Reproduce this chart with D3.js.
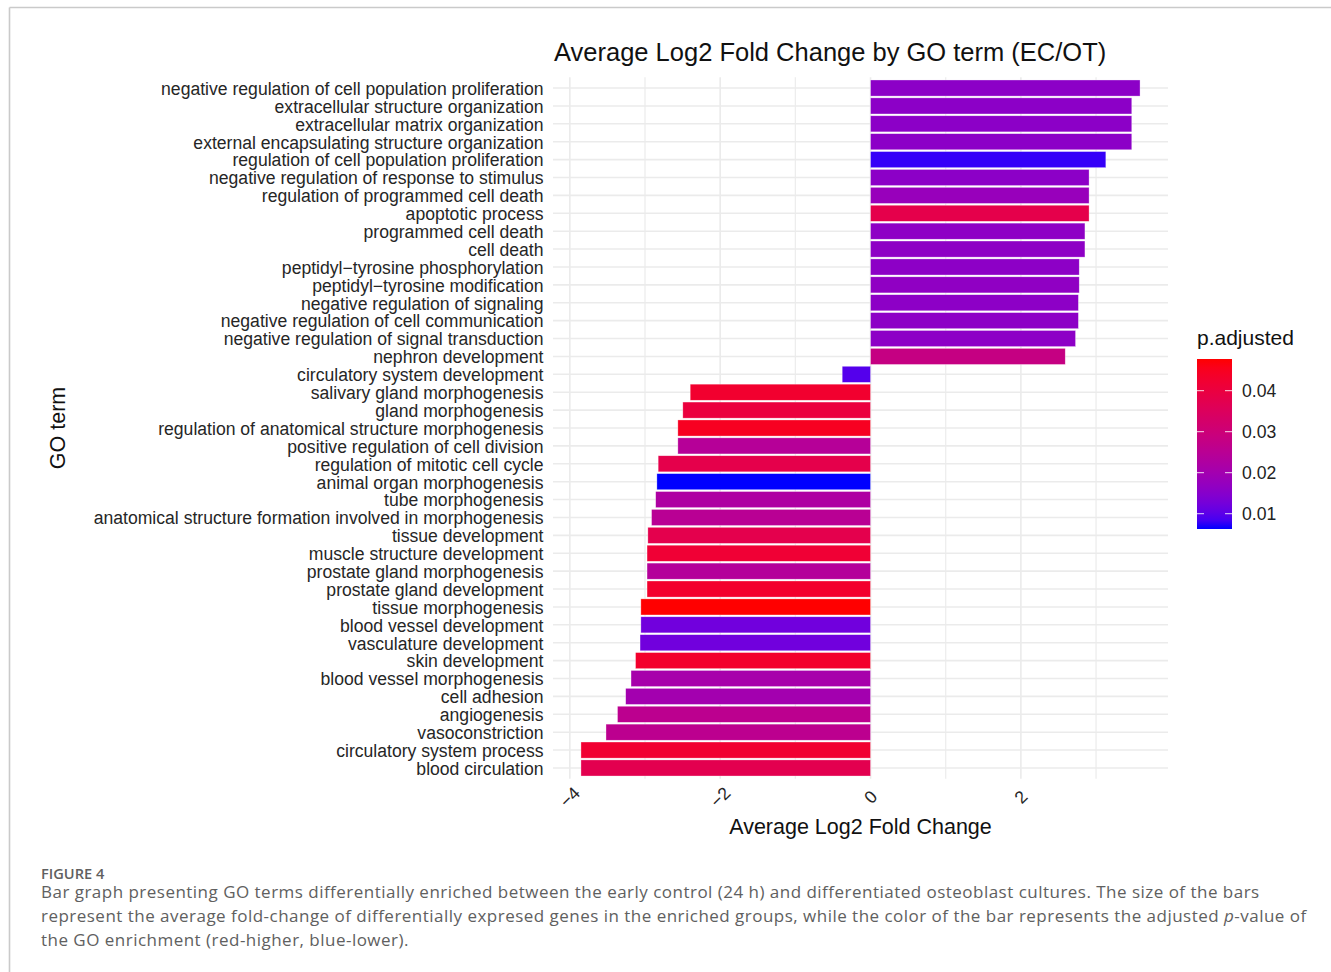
<!DOCTYPE html>
<html>
<head>
<meta charset="utf-8">
<script src="https://cdn.jsdelivr.net/npm/d3@7"></script>
<style>
  html, body { margin: 0; padding: 0; background: #ffffff; }
  svg { display: block; }
</style>
</head>
<body>
<div id="chart"></div>
<script>
// GO terms, listed top to bottom as drawn
const goTerms = [
  "negative regulation of cell population proliferation",
  "extracellular structure organization",
  "extracellular matrix organization",
  "external encapsulating structure organization",
  "regulation of cell population proliferation",
  "negative regulation of response to stimulus",
  "regulation of programmed cell death",
  "apoptotic process",
  "programmed cell death",
  "cell death",
  "peptidyl\u2212tyrosine phosphorylation",
  "peptidyl\u2212tyrosine modification",
  "negative regulation of signaling",
  "negative regulation of cell communication",
  "negative regulation of signal transduction",
  "nephron development",
  "circulatory system development",
  "salivary gland morphogenesis",
  "gland morphogenesis",
  "regulation of anatomical structure morphogenesis",
  "positive regulation of cell division",
  "regulation of mitotic cell cycle",
  "animal organ morphogenesis",
  "tube morphogenesis",
  "anatomical structure formation involved in morphogenesis",
  "tissue development",
  "muscle structure development",
  "prostate gland morphogenesis",
  "prostate gland development",
  "tissue morphogenesis",
  "blood vessel development",
  "vasculature development",
  "skin development",
  "blood vessel morphogenesis",
  "cell adhesion",
  "angiogenesis",
  "vasoconstriction",
  "circulatory system process",
  "blood circulation"
];

// Average log2 fold change per term
const avgLog2FC = [
  3.585, 3.475, 3.475, 3.475, 3.130, 2.907, 2.907, 2.907, 2.852, 2.852,
  2.776, 2.776, 2.765, 2.765, 2.727, 2.590, -0.377,
  -2.399, -2.497, -2.563, -2.563, -2.825, -2.842, -2.858, -2.913, -2.962,
  -2.973, -2.973, -2.973, -3.055, -3.055, -3.066, -3.126, -3.186, -3.257,
  -3.366, -3.519, -3.852, -3.852
];

// Adjusted p-value of the enrichment per term
const pAdjusted = [
  0.0158, 0.0158, 0.0158, 0.0158, 0.0075, 0.0158, 0.0179, 0.0382, 0.0162, 0.0162,
  0.0160, 0.0165, 0.0160, 0.0160, 0.0160, 0.0282, 0.0094,
  0.0428, 0.0403, 0.0448, 0.0241, 0.0382, 0.00627, 0.0224, 0.0249, 0.0378,
  0.0419, 0.0237, 0.0432, 0.04773, 0.0121, 0.0121, 0.0432, 0.0208, 0.0200,
  0.0258, 0.0258, 0.0423, 0.0374
];

const xTickValues = [-4, -2, 0, 2];
const legendTickValues = [0.01, 0.02, 0.03, 0.04];

const chartTitle = "Average Log2 Fold Change by GO term (EC/OT)";
const xTitle = "Average Log2 Fold Change";
const yTitle = "GO term";
const legendTitle = "p.adjusted";
const figureLabel = "FIGURE 4";
const captionLines = [
  "Bar graph presenting GO terms differentially enriched between the early control (24 h) and differentiated osteoblast cultures. The size of the bars",
  "represent the average fold-change of differentially expresed genes in the enriched groups, while the color of the bar represents the adjusted ",
  "the GO enrichment (red-higher, blue-lower)."
];

const W = 1331, H = 972;
const svg = d3.select("#chart").append("svg")
  .attr("width", W).attr("height", H)
  .style("font-family", "'Liberation Sans', Arial, sans-serif");

// card frame
svg.append("line").attr("x1", 9.5).attr("x2", W).attr("y1", 7.5).attr("y2", 7.5)
  .attr("stroke", "#cacaca").attr("stroke-width", 1.6);
svg.append("line").attr("x1", 9.5).attr("x2", 9.5).attr("y1", 7.5).attr("y2", H)
  .attr("stroke", "#cacaca").attr("stroke-width", 1.6);

const panel = { left: 553, right: 1168, top: 77.3, bottom: 778.7 };

const rows = goTerms.map((t, i) => ({ term: t, fc: avgLog2FC[i], p: pAdjusted[i] }));

// x extent with 5% expansion on each side
const ext = d3.extent(avgLog2FC);
const pad = (ext[1] - ext[0]) * 0.05;
const x = d3.scaleLinear().domain([ext[0] - pad, ext[1] + pad]).range([panel.left, panel.right]);

const y = d3.scalePoint().domain(goTerms).range([panel.top, panel.bottom]).padding(0.6);
const barH = y.step() * 0.9;

const pExt = d3.extent(pAdjusted);
const color = d3.scaleSequential(d3.interpolateLab("blue", "red")).domain(pExt);

const grid = svg.append("g");
// minor vertical grid
x.ticks(8).filter(v => !xTickValues.includes(v)).forEach(v => {
  grid.append("line").attr("x1", x(v)).attr("x2", x(v))
    .attr("y1", panel.top).attr("y2", panel.bottom)
    .attr("stroke", "#ededed").attr("stroke-width", 1.3);
});
// major vertical grid
xTickValues.forEach(v => {
  grid.append("line").attr("x1", x(v)).attr("x2", x(v))
    .attr("y1", panel.top).attr("y2", panel.bottom)
    .attr("stroke", "#ebebeb").attr("stroke-width", 1.6);
});
// horizontal grid per term
goTerms.forEach(t => {
  grid.append("line").attr("x1", panel.left).attr("x2", panel.right)
    .attr("y1", y(t)).attr("y2", y(t))
    .attr("stroke", "#ebebeb").attr("stroke-width", 1.6);
});

// bars
svg.append("g").selectAll("rect").data(rows).join("rect")
  .attr("x", d => Math.min(x(0), x(d.fc)))
  .attr("width", d => Math.abs(x(d.fc) - x(0)))
  .attr("y", d => y(d.term) - barH / 2)
  .attr("height", barH)
  .attr("fill", d => color(d.p))
  .attr("stroke", "rgba(255,255,255,0.55)")
  .attr("stroke-width", 0.6);

// y axis labels
const yAxis = d3.axisLeft(y).tickSize(0).tickPadding(0);
const yg = svg.append("g").attr("transform", `translate(${panel.left - 9.5},0)`).call(yAxis);
yg.select(".domain").remove();
yg.selectAll("text")
  .attr("font-size", "17.6px").attr("fill", "#262626")
  .attr("font-family", "'Liberation Sans', Arial, sans-serif")
  .attr("dy", "0.36em");

// x axis labels, rotated
const fmt = d3.format("d");
const xg = svg.append("g");
xg.selectAll("text").data(xTickValues).join("text")
  .attr("transform", d => `translate(${x(d)},797) rotate(-45)`)
  .attr("text-anchor", "middle")
  .attr("dy", "0.35em")
  .attr("font-size", "17.6px").attr("fill", "#262626")
  .text(d => fmt(d));

// titles
svg.append("text").attr("x", panel.left + 1).attr("y", 61)
  .attr("font-size", "25.5px").attr("fill", "#111").text(chartTitle);
svg.append("text").attr("x", (panel.left + panel.right) / 2).attr("y", 833.5)
  .attr("text-anchor", "middle").attr("font-size", "21.5px").attr("fill", "#111").text(xTitle);
svg.append("text").attr("transform", `translate(64.5,${(panel.top + panel.bottom) / 2}) rotate(-90)`)
  .attr("text-anchor", "middle").attr("font-size", "21.5px").attr("fill", "#111").text(yTitle);

// colour bar legend
const lg = { x: 1197, w: 35, top: 359, bottom: 529 };
const defs = svg.append("defs");
const grad = defs.append("linearGradient").attr("id", "pgrad")
  .attr("x1", 0).attr("y1", 1).attr("x2", 0).attr("y2", 0);
d3.range(0, 1.0001, 0.05).forEach(t => {
  grad.append("stop").attr("offset", t)
    .attr("stop-color", color(pExt[0] + t * (pExt[1] - pExt[0])));
});
svg.append("rect").attr("x", lg.x).attr("y", lg.top).attr("width", lg.w)
  .attr("height", lg.bottom - lg.top).attr("fill", "url(#pgrad)");
const ly = d3.scaleLinear().domain(pExt).range([lg.bottom, lg.top]);
const legendG = svg.append("g");
legendTickValues.forEach(v => {
  legendG.append("line").attr("x1", lg.x).attr("x2", lg.x + 7)
    .attr("y1", ly(v)).attr("y2", ly(v)).attr("stroke", "rgba(255,255,255,0.85)").attr("stroke-width", 1);
  legendG.append("line").attr("x1", lg.x + lg.w - 7).attr("x2", lg.x + lg.w)
    .attr("y1", ly(v)).attr("y2", ly(v)).attr("stroke", "rgba(255,255,255,0.85)").attr("stroke-width", 1);
  legendG.append("text").attr("x", 1242).attr("y", ly(v)).attr("dy", "0.36em")
    .attr("font-size", "17.6px").attr("fill", "#222").text(d3.format(".2f")(v));
});
svg.append("text").attr("x", lg.x).attr("y", 345)
  .attr("font-size", "21px").attr("fill", "#111").text(legendTitle);

// figure caption
const cap = svg.append("g").style("font-family", "'Open Sans', 'Noto Sans', sans-serif");
cap.append("text").attr("x", 41).attr("y", 878.5)
  .attr("font-size", "14.6px").attr("font-weight", 600).attr("fill", "#606060").text(figureLabel);
const capY = [898, 922, 946];
captionLines.forEach((line, i) => {
  const t = cap.append("text").attr("x", 41).attr("y", capY[i])
    .attr("font-size", "17px").attr("letter-spacing", "0.48px").attr("fill", "#606060");
  t.append("tspan").text(line);
  if (i === 1) {
    t.append("tspan").attr("font-style", "italic").text("p");
    t.append("tspan").text("-value of");
  }
});
</script>
</body>
</html>
